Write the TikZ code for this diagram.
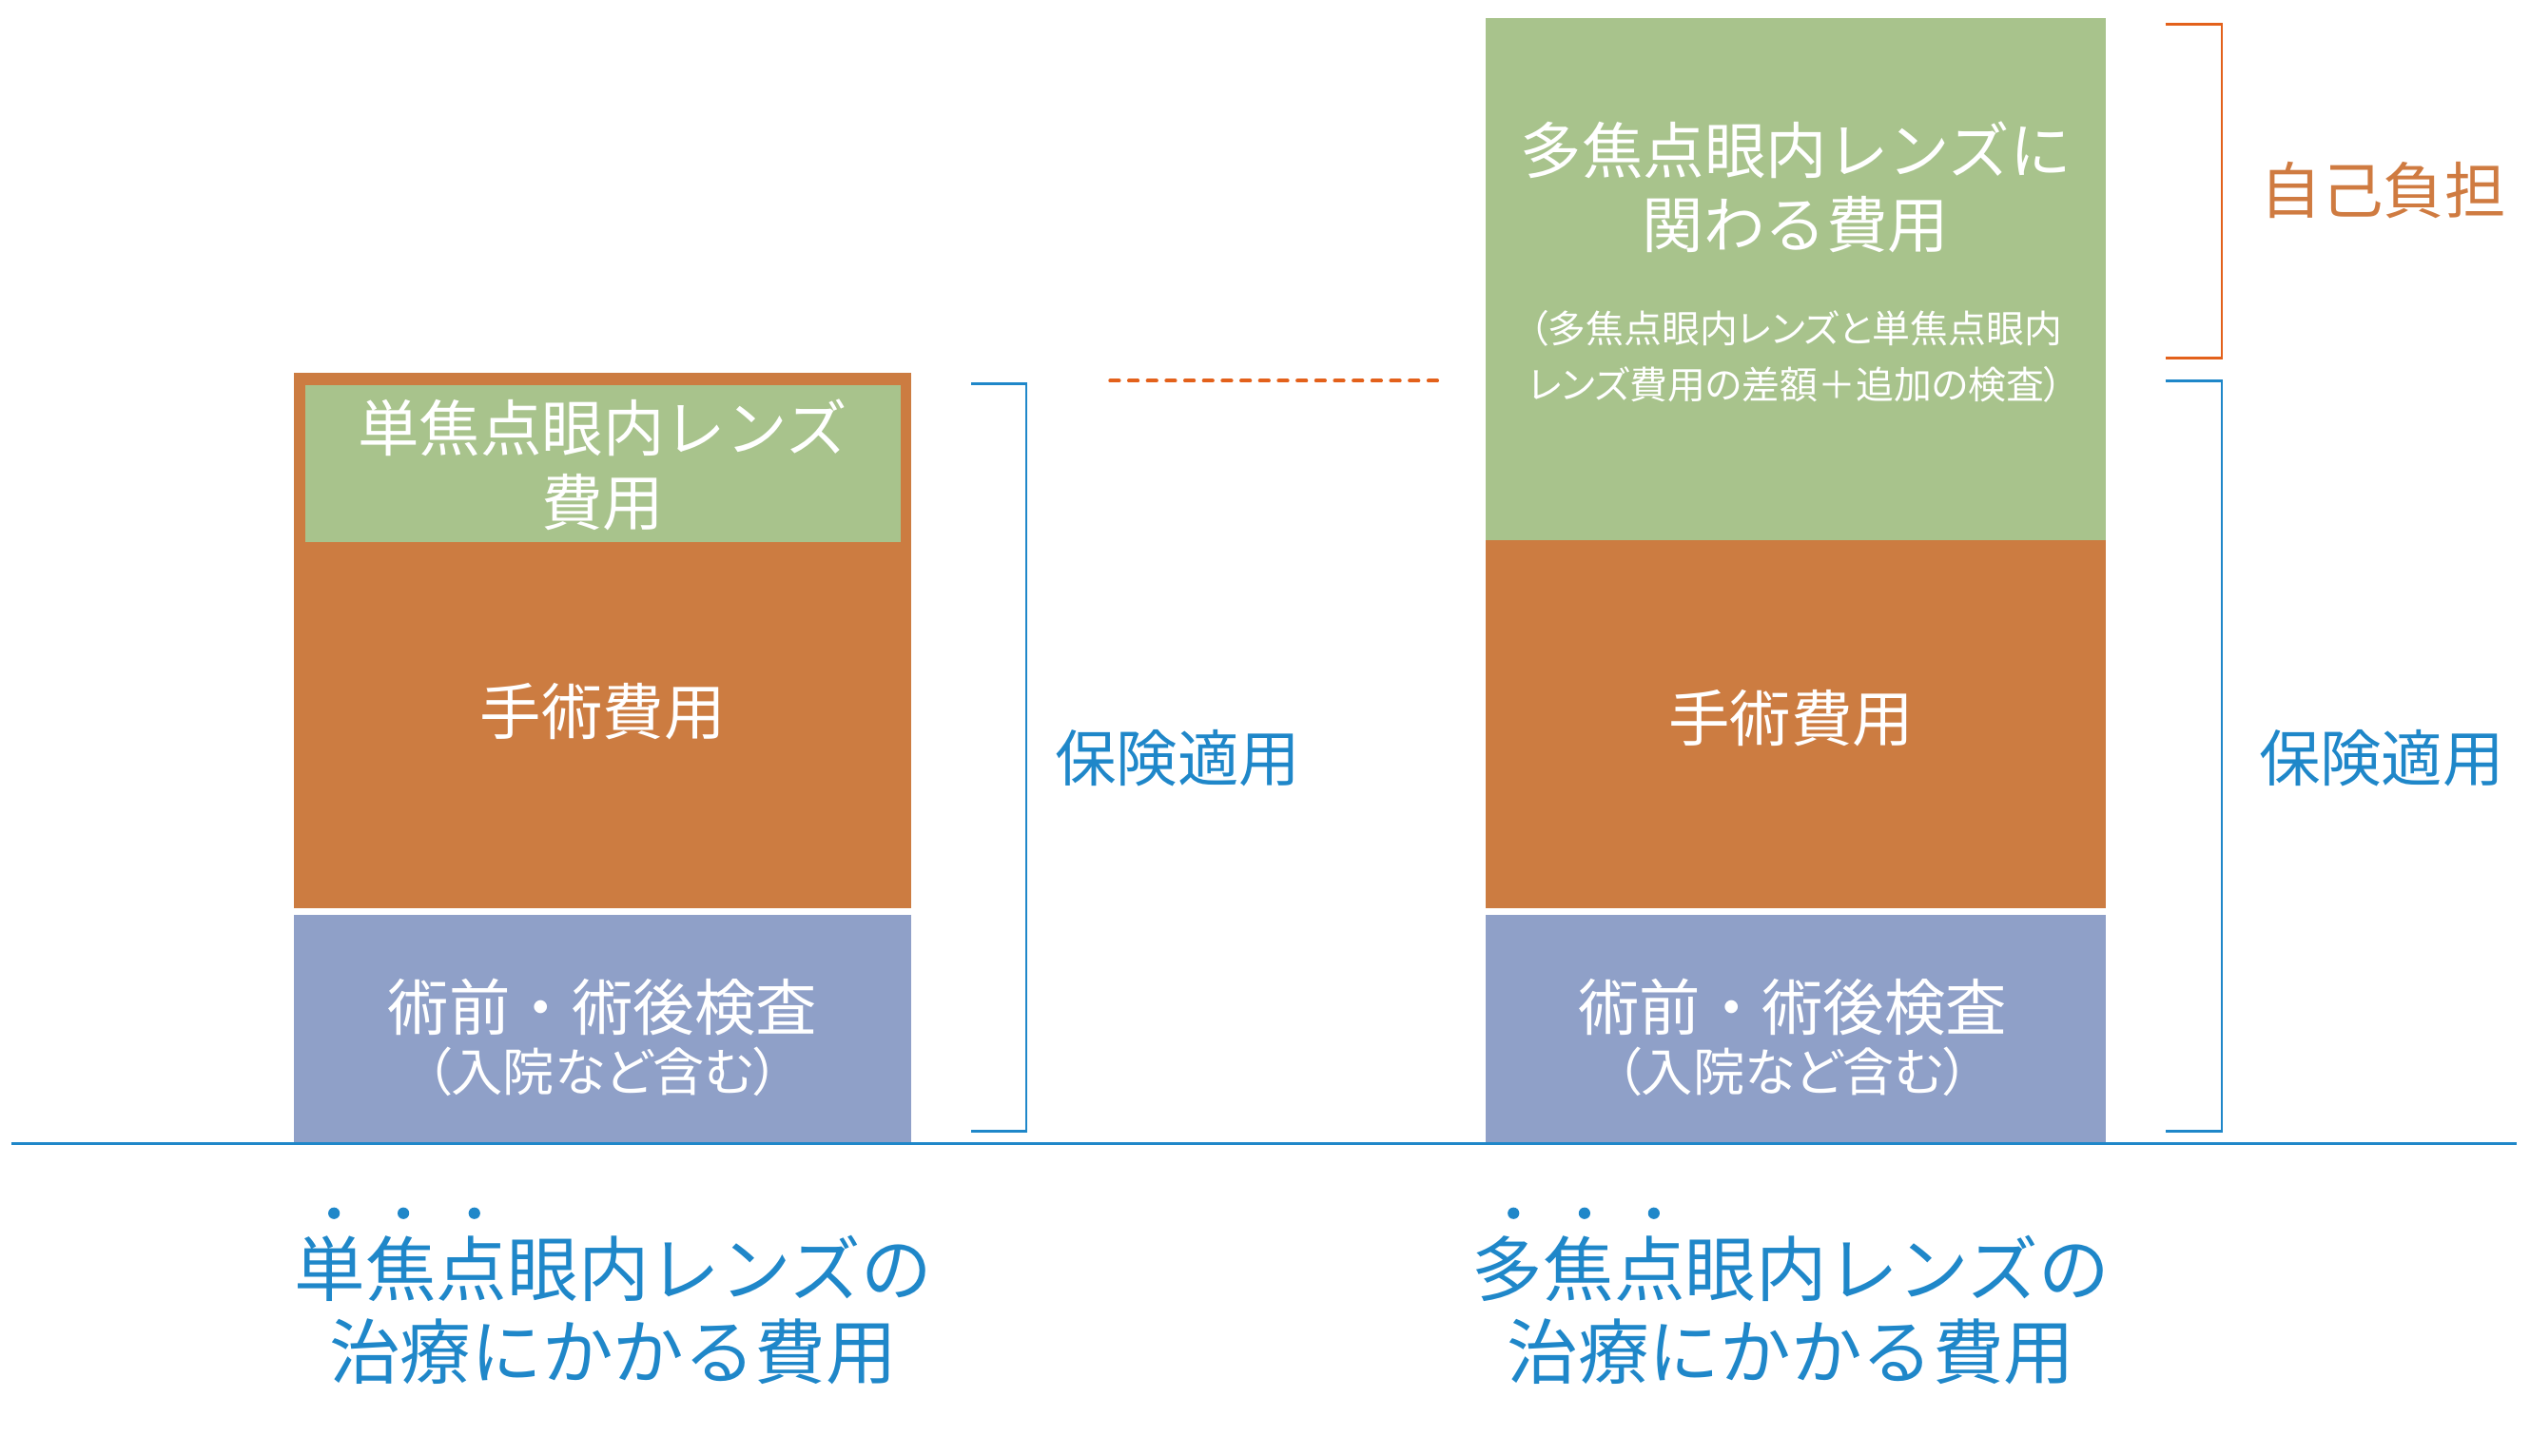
\documentclass[tikz,border=0pt]{standalone}
\usepackage{fontspec}
\newfontfamily\jp{Noto Sans CJK JP}
\newfontfamily\jpp[RawFeature=+palt]{Noto Sans CJK JP}
\definecolor{cgreen}{HTML}{A8C38C}
\definecolor{corange}{HTML}{CC7C41}
\definecolor{cblue}{HTML}{8FA0C8}
\definecolor{tblue}{HTML}{1F87C9}
\definecolor{torange}{HTML}{CF7B41}
\definecolor{borange}{HTML}{E3611B}
\begin{document}
\begin{tikzpicture}[x=1pt,y=-1pt,
  blk/.style={draw=none,inner sep=0pt,outer sep=0pt,minimum width=#1},
  wtext/.style={inner sep=0pt,text=white,align=center},
  big/.style={font=\jp\fontsize{38}{46}\selectfont},
  mid/.style={font=\jpp\fontsize{32}{39}\selectfont},
  small/.style={font=\jpp\fontsize{23.5}{35}\selectfont},
  title/.style={inner sep=0pt,text=tblue,align=center,font=\jp\fontsize{44}{51}\selectfont},
  side/.style={inner sep=0pt,font=\jp\fontsize{38}{46}\selectfont},
  bracket/.style={line width=1.6pt},
  emdot/.style={fill=tblue}
]
\useasboundingbox (0,0) rectangle (1568,902);

% ---------- left column ----------
\node[blk=383pt,minimum height=332pt,fill=corange] (lorange) at (373.5,397) {};
\node[blk=369pt,minimum height=97pt,fill=cgreen] (lgreen) at (373.5,287.5) {};
\node[blk=383pt,minimum height=141pt,fill=cblue] (lblue) at (373.5,637.5) {};
\node[wtext,big] (lgtext) at (373.5,288) {単焦点眼内レンズ\\費用};
\node[wtext,big] (lotext) at (373.5,441) {手術費用};
\node[wtext,big] (lbtext1) at (373.5,624) {術前・術後検査};
\node[wtext,mid] (lbtext2) at (373.5,664) {（入院など含む）};

% ---------- right column ----------
\node[blk=384pt,minimum height=324pt,fill=cgreen] (rgreen) at (1113,173) {};
\node[blk=384pt,minimum height=228pt,fill=corange] (rorange) at (1113,449) {};
\node[blk=384pt,minimum height=141pt,fill=cblue] (rblue) at (1113,637.5) {};
\node[wtext,big] (rgtext) at (1113,116) {多焦点眼内レンズに\\関わる費用};
\node[wtext,small] (rgsmall) at (1113,221) {（多焦点眼内レンズと単焦点眼内\\レンズ費用の差額＋追加の検査）};
\node[wtext,big] (rotext) at (1110,445) {手術費用};
\node[wtext,big] (rbtext1) at (1111,624) {術前・術後検査};
\node[wtext,mid] (rbtext2) at (1111,664) {（入院など含む）};

% ---------- baseline ----------
\coordinate (b0) at (7,709);
\coordinate (b1) at (1560,709);
\draw[tblue,line width=1.6pt] (b0) -- (b1);

% ---------- left bracket ----------
\coordinate (lb1) at (602,238);
\coordinate (lb2) at (636,238);
\coordinate (lb3) at (636,701);
\coordinate (lb4) at (602,701);
\draw[tblue,bracket] (lb1) -- (lb2) -- (lb3) -- (lb4);
\node[side,text=tblue] (lins) at (730,470) {保険適用};

% ---------- dashed level line ----------
\coordinate (d0) at (688,236);
\coordinate (d1) at (891,236);
\draw[borange,line width=2.2pt,line cap=round,dash pattern=on 5.6pt off 6pt] (d0) -- (d1);

% ---------- right brackets ----------
\coordinate (ro1) at (1342,15);
\coordinate (ro2) at (1377,15);
\coordinate (ro3) at (1377,222);
\coordinate (ro4) at (1342,222);
\draw[borange,bracket] (ro1) -- (ro2) -- (ro3) -- (ro4);
\node[side,text=torange] (rself) at (1477,118) {自己負担};

\coordinate (rb1) at (1342,236);
\coordinate (rb2) at (1377,236);
\coordinate (rb3) at (1377,701);
\coordinate (rb4) at (1342,701);
\draw[tblue,bracket] (rb1) -- (rb2) -- (rb3) -- (rb4);
\node[side,text=tblue] (rins) at (1476,470) {保険適用};

% ---------- bottom titles ----------
\node[title] (ltitle) at (380,812) {単焦点眼内レンズの\\治療にかかる費用};
\node[title] (rtitle) at (1110,812) {多焦点眼内レンズの\\治療にかかる費用};
\fill[emdot] (207,752) circle (3.6);
\fill[emdot] (250,752) circle (3.6);
\fill[emdot] (294,752) circle (3.6);
\fill[emdot] (938,752) circle (3.6);
\fill[emdot] (982,752) circle (3.6);
\fill[emdot] (1025,752) circle (3.6);
\end{tikzpicture}
\end{document}
